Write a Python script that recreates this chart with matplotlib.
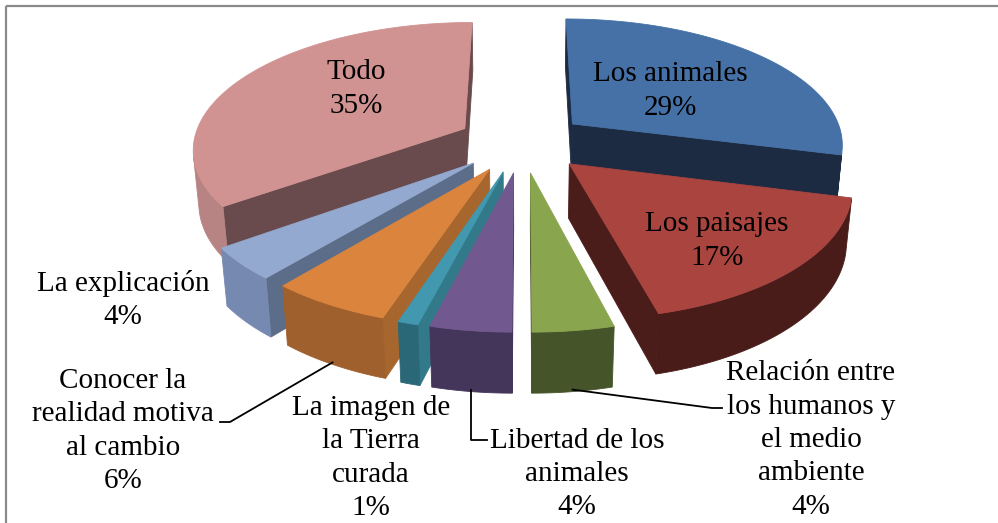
import numpy as np
import matplotlib.pyplot as plt
from matplotlib.patches import Polygon, Rectangle

# data (clockwise from 12 o'clock)
categories = ["Los animales", "Los paisajes",
              "Relación entre\nlos humanos y\nel medio\nambiente",
              "Libertad de los\nanimales", "La imagen de\nla Tierra\ncurada",
              "Conocer la\nrealidad motiva\nal cambio", "La explicación", "Todo"]
percent = [29, 17, 4, 4, 1, 6, 4, 35]

# styling
top_colors = ["#4571A7", "#A9443F", "#89A54E", "#71588F", "#4198AF", "#DB843D", "#93A9CF", "#D19392"]
rim_colors = ["#1D2C44", "#491C1A", "#46542A", "#44355A", "#2B6877", "#A0602D", "#7689B0", "#B88383"]
cut_colors = ["#1C2B42", "#4A1C1A", "#46542A", "#44355A", "#32798A", "#A8662F", "#5C6D89", "#6A4B4D"]

label_pos = [(670, 91), (717, 241), (811, 440), (577, 474),
             (371, 458), (123, 431), (123, 300), (356, 89)]
# leader lines: extra points after the rim anchor (None = no leader)
leaders = [None, None, [(712, 408), (722, 408)], "down", None,
           [(230, 422), (220, 422)], None, None]

# camera / 3d pie setup (pie radius = 1)
ELEV = np.radians(27.5)
DIST = 6.0
FOC = 1630
CX, CY = 522, 142
EXPLODE = 0.24
THICK = 0.225
se, ce = np.sin(ELEV), np.cos(ELEV)
cam = np.array([0, -DIST * ce, DIST * se])


def project(X, Y, Z):
    X, Y, Z = np.asarray(X, float), np.asarray(Y, float), np.asarray(Z, float)
    depth = DIST + Y * ce - Z * se
    return CX + FOC * X / depth, CY - FOC * (Y * se + Z * ce) / depth


def facing(n, p):
    return np.dot(n, cam - p) > 0


fig = plt.figure(figsize=(9.98, 5.23), dpi=100)
ax = fig.add_axes([0, 0, 1, 1])
ax.set_xlim(0, 998)
ax.set_ylim(523, 0)
ax.axis('off')

ax.add_patch(Rectangle((6, 6), 1000, 530, fill=False, edgecolor='#8a8a8a', lw=1.6))

fr = np.array(percent) / sum(percent)
ends = np.cumsum(fr) * 2 * np.pi
starts = ends - fr * 2 * np.pi

slices = []
for i, (t1, t2) in enumerate(zip(starts, ends)):
    tm = (t1 + t2) / 2
    ox, oy = EXPLODE * np.sin(tm), EXPLODE * np.cos(tm)
    t = np.linspace(t1, t2, max(4, int(np.degrees(t2 - t1)) + 2))
    slices.append((oy + 0.5 * np.cos(tm), i, t1, t2, tm, ox, oy, t))

def poly(xs, ys, color, z):
    ax.add_patch(Polygon(np.column_stack([xs, ys]), closed=True, facecolor=color,
                         edgecolor=color, lw=0.6, zorder=z))

for k, (_, i, t1, t2, tm, ox, oy, t) in enumerate(sorted(slices, reverse=True)):
    z = 2 + k
    arcx, arcy = ox + np.sin(t), oy + np.cos(t)
    tip = np.array([ox, oy, 0])
    # radial faces
    n1 = np.array([-np.cos(t1), np.sin(t1), 0])
    n2 = np.array([np.cos(t2), -np.sin(t2), 0])
    for n, j in ((n1, 0), (n2, -1)):
        if facing(n, tip):
            xs = [ox, arcx[j], arcx[j], ox]
            ys = [oy, arcy[j], arcy[j], oy]
            zs = [0, 0, -THICK, -THICK]
            px, py = project(xs, ys, zs)
            poly(px, py, cut_colors[i], z)
    # outer rim
    vis = np.array([facing(np.array([np.sin(a), np.cos(a), 0]), np.array([x, y, 0]))
                    for a, x, y in zip(t, arcx, arcy)])
    if vis.sum() >= 2:
        vx, vy = arcx[vis], arcy[vis]
        px1, py1 = project(vx, vy, np.zeros_like(vx))
        px2, py2 = project(vx[::-1], vy[::-1], np.full_like(vx, -THICK))
        poly(np.r_[px1, px2], np.r_[py1, py2], rim_colors[i], z)
    # top face
    px, py = project(np.r_[ox, arcx], np.r_[oy, arcy], np.zeros(len(t) + 1))
    poly(px, py, top_colors[i], z)

    # label
    lx, ly = label_pos[i]
    ax.text(lx, ly, f"{categories[i]}\n{percent[i]}%", ha='center', va='center',
            multialignment='center', fontsize=21, family='Liberation Serif',
            linespacing=1.37, zorder=50)

    ld = leaders[i]
    if ld is not None:
        sx, sy = project(ox + np.sin(tm), oy + np.cos(tm), -THICK)
        sx, sy = float(sx), float(sy) - 2
        if ld == "down":
            pts = [(sx, sy), (sx, 440), (487, 440)]
        else:
            pts = [(sx, sy)] + ld
        xs, ys = zip(*pts)
        ax.plot(xs, ys, color='black', lw=1.3, zorder=49)

fig.savefig('out.png', dpi=100)
